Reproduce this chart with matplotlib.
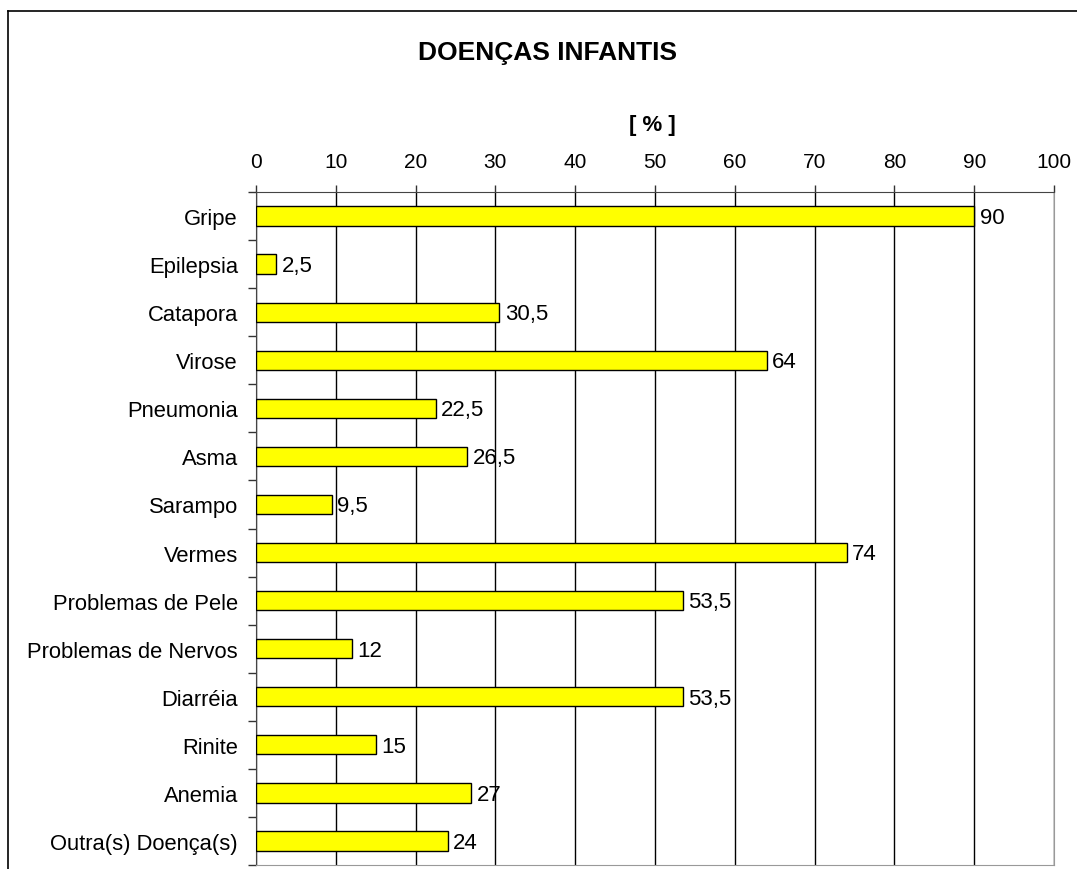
import numpy as np
import matplotlib.pyplot as plt
from matplotlib.lines import Line2D

plt.rcParams['font.family'] = ['Liberation Sans', 'DejaVu Sans']

# Dados
doencas = ['Gripe', 'Epilepsia', 'Catapora', 'Virose', 'Pneumonia', 'Asma',
           'Sarampo', 'Vermes', 'Problemas de Pele', 'Problemas de Nervos',
           'Diarréia', 'Rinite', 'Anemia', 'Outra(s) Doença(s)']
percentuais = [90, 2.5, 30.5, 64, 22.5, 26.5, 9.5, 74, 53.5, 12, 53.5, 15, 27, 24]

fig = plt.figure(figsize=(10.77, 8.7), dpi=100)
ax = fig.add_axes([256 / 1077, 4 / 870, 798 / 1077, 673 / 870])

y = np.arange(len(doencas))
ax.barh(y, percentuais, height=0.4, color='#ffff00', edgecolor='black',
        linewidth=1, zorder=3)

# Rótulos das barras
for yi, v in zip(y, percentuais):
    txt = f'{v:g}'.replace('.', ',')
    ax.annotate(txt, (v, yi), xytext=(4, -1), textcoords='offset points',
                va='center', ha='left', fontsize=16, zorder=4)

ax.set_xlim(0, 100)
ax.set_ylim(len(doencas) - 0.5, -0.5)
ax.set_xticks(np.arange(0, 101, 10))
ax.xaxis.tick_top()
ax.tick_params(axis='x', direction='out', length=5, width=1, color='#333333',
               labelsize=15, pad=10)
ax.set_yticks(y)
ax.set_yticklabels(doencas)
ax.tick_params(axis='y', which='major', length=0, labelsize=15.8, pad=13)
ax.set_yticks(np.arange(-0.5, len(doencas) + 0.5, 1), minor=True)
ax.tick_params(axis='y', which='minor', direction='out', length=6, width=1,
               color='#333333')

ax.grid(axis='x', color='black', linewidth=1, zorder=0)
ax.spines['left'].set_color('#444444')
ax.spines['top'].set_color('#444444')
ax.spines['right'].set_color('#999999')
ax.spines['bottom'].set_color('#999999')

fig.text(548 / 1077, 1 - 53 / 870, 'DOENÇAS INFANTIS', ha='center', va='center',
         fontsize=19, fontweight='bold')
fig.text(652 / 1077, 1 - 126 / 870, '[ % ]', ha='center', va='center',
         fontsize=16, fontweight='bold')

# Moldura externa
fig.add_artist(Line2D([8 / 1077, 8 / 1077], [0, 1 - 12 / 870], color='black',
                      linewidth=1.2, transform=fig.transFigure))
fig.add_artist(Line2D([8 / 1077, 1], [1 - 12 / 870, 1 - 12 / 870], color='black',
                      linewidth=1.2, transform=fig.transFigure))

fig.savefig('out.png', dpi=100)
